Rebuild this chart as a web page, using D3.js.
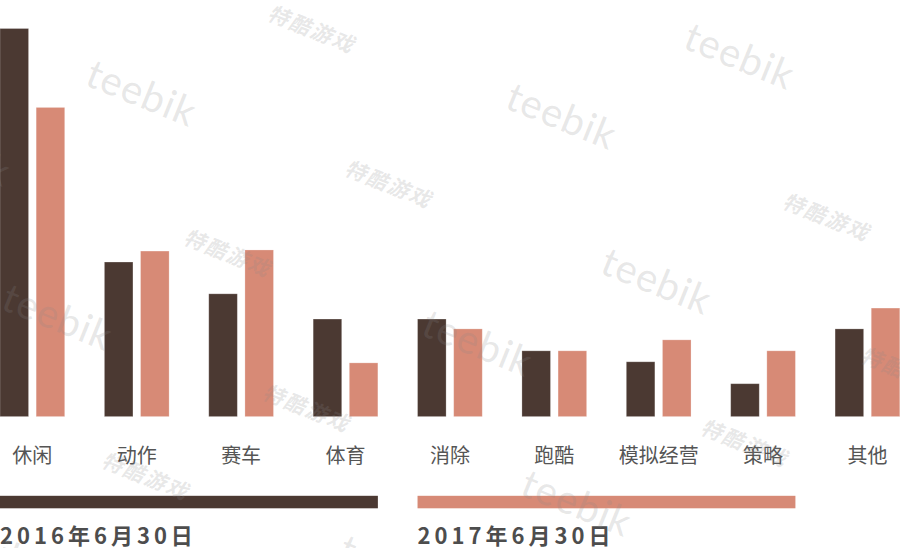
<!DOCTYPE html>
<html>
<head>
<meta charset="utf-8">
<script src="https://cdn.jsdelivr.net/npm/d3@7"></script>
<style>
  html, body { margin: 0; padding: 0; background: #fff; }
  svg { display: block; }
</style>
</head>
<body>
<svg id="chart" width="900" height="548"></svg>
<script>
// ---- data ----
const categories = ["休闲", "动作", "赛车", "体育", "消除", "跑酷", "模拟经营", "策略", "其他"];
const seriesNames = ["2016年6月30日", "2017年6月30日"];
const values2016 = [35.4, 14.1, 11.2, 8.9, 8.9, 6.0, 5.0, 3.0, 8.0];
const values2017 = [28.2, 15.1, 15.2, 4.9, 8.0, 6.0, 7.0, 6.0, 9.9];
const seriesColors = ["#4b3932", "#d78a76"];

// decorative watermarks: [text, cx, cy]
const watermarks = [
  ["teebik", 142, 92], ["teebik", 58, 316], ["teebik", -44, 152], ["teebik", -25, 541],
  ["teebik", 562, 115], ["teebik", 478, 342], ["teebik", 395, 567],
  ["teebik", 740, 55], ["teebik", 657, 280], ["teebik", 577, 502],
  ["特酷游戏", 312, 28], ["特酷游戏", 228, 252], ["特酷游戏", 146, 475],
  ["特酷游戏", 389, 183], ["特酷游戏", 307, 407],
  ["特酷游戏", 827, 216], ["特酷游戏", 745, 442], ["特酷游戏", 905, 370]
];

const svg = d3.select("#chart");
const baseline = 416.6;

const x = d3.scaleBand().domain(categories).range([0, 899.8]).paddingInner(0.38).paddingOuter(0);
const xs = d3.scaleBand().domain([0, 1]).range([0, x.bandwidth()]).paddingInner(0.21).paddingOuter(0);
const y = d3.scaleLinear().domain([0, 38]).range([baseline, 0]);

const series = [values2016, values2017];

const groups = svg.append("g").selectAll("g")
  .data(categories)
  .join("g")
  .attr("transform", d => `translate(${x(d)},0)`);

groups.selectAll("rect")
  .data((d, i) => series.map((s, k) => ({ k, v: s[i] })))
  .join("rect")
  .attr("x", d => xs(d.k))
  .attr("width", xs.bandwidth())
  .attr("y", d => y(d.v))
  .attr("height", d => y(0) - y(d.v))
  .attr("fill", d => seriesColors[d.k])
  .attr("stroke", "rgba(255,255,255,0.3)")
  .attr("stroke-width", 0.8);

// category labels
svg.append("g").selectAll("text")
  .data(categories)
  .join("text")
  .attr("x", d => x(d) + x.bandwidth() / 2)
  .attr("y", 463)
  .attr("text-anchor", "middle")
  .attr("font-family", "'Noto Sans CJK SC', sans-serif")
  .attr("font-size", 20)
  .attr("fill", "#555")
  .text(d => d);

// legend: each series spans four categories
const legend = svg.append("g").selectAll("g")
  .data(seriesNames)
  .join("g");

legend.append("rect")
  .attr("x", (d, i) => x(categories[i * 4]))
  .attr("width", (d, i) => x(categories[i * 4 + 3]) + x.bandwidth() - x(categories[i * 4]))
  .attr("y", 495.8)
  .attr("height", 12.5)
  .attr("fill", (d, i) => seriesColors[i]);

legend.append("text")
  .attr("x", (d, i) => x(categories[i * 4]))
  .attr("y", 544)
  .attr("font-family", "'Noto Sans CJK SC', sans-serif")
  .attr("font-weight", "bold")
  .attr("font-size", 22)
  .attr("letter-spacing", "4px")
  .attr("fill", "#4d4d4d")
  .text(d => d);

// watermarks overlay
const wm = svg.append("g").attr("pointer-events", "none");
wm.selectAll("text")
  .data(watermarks)
  .join("text")
  .attr("transform", d => `translate(${d[1]},${d[2]}) rotate(22)`)
  .attr("text-anchor", "middle")
  .attr("dominant-baseline", "central")
  .attr("font-family", d => d[0] === "teebik" ? "Lato, 'Open Sans', sans-serif" : "'Noto Sans CJK SC', sans-serif")
  .attr("font-size", d => d[0] === "teebik" ? 40 : 21)
  .attr("font-weight", d => d[0] === "teebik" ? "normal" : "bold")
  .attr("font-style", d => d[0] === "teebik" ? "normal" : "italic")
  .attr("letter-spacing", d => d[0] === "teebik" ? "1px" : "2px")
  .attr("fill", "#888")
  .attr("fill-opacity", 0.2)
  .text(d => d[0]);
</script>
</body>
</html>
